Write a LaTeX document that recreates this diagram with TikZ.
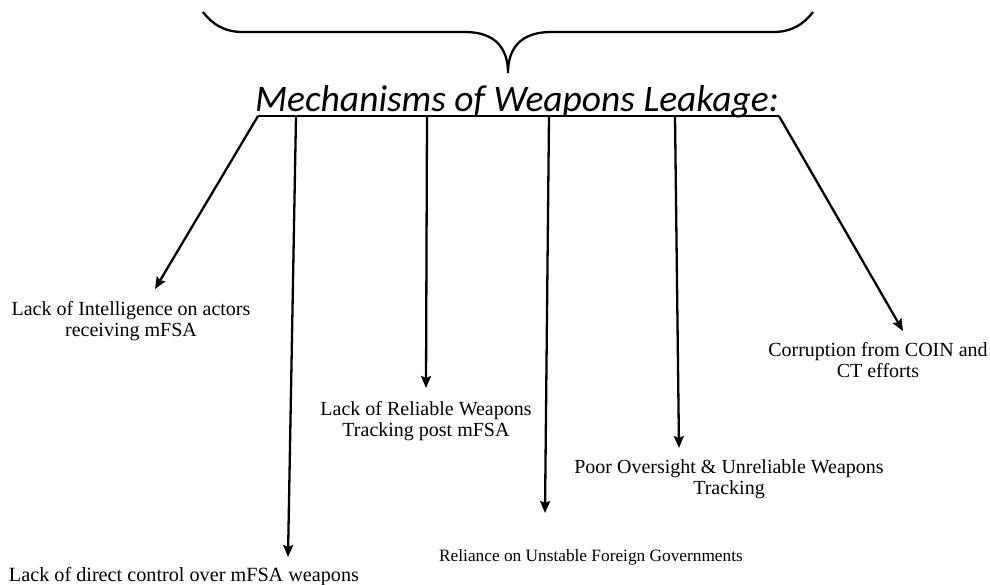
\documentclass[tikz,border=0pt]{standalone}
\usepackage{fontspec}
\setmainfont{Liberation Serif}
\newfontfamily\titlefont{Carlito}
\usetikzlibrary{arrows.meta}
\begin{document}
\begin{tikzpicture}[x=1pt,y=-1pt,
  conn/.style={line width=2.3pt,-{Stealth[length=12pt,width=10pt,inset=2pt]}},
  lbl/.style={font=\fontsize{20}{21}\selectfont,align=center,inner sep=0pt,anchor=base},
  brace/.style={line width=2.3pt}]
\useasboundingbox (0,0) rectangle (990,584);
% brace
\draw[brace] (203,12) .. controls (213,25) and (225,32) .. (243,32) -- (465,32)
  .. controls (495,32) and (508,48) .. (508,73)
  .. controls (508,48) and (521,32) .. (551,32) -- (773,32)
  .. controls (791,32) and (803,25) .. (813,12);
% title
\node[inner sep=0pt,anchor=base,font=\titlefont\itshape\fontsize{37.5}{42}\selectfont] (title) at (517,111) {Mechanisms of Weapons Leakage:};
\coordinate (ul) at (258,116);
\coordinate (ur) at (779,116);
\draw[line width=2.3pt] (ul) -- (ur);
% start points
\coordinate (s1) at (258,116);
\coordinate (s2) at (296,116);
\coordinate (s3) at (427,116);
\coordinate (s4) at (549,116);
\coordinate (s5) at (675,116);
\coordinate (s6) at (779,116);
% tips
\coordinate (e1) at (155,289);
\coordinate (e2) at (288,557);
\coordinate (e3) at (426,388);
\coordinate (e4) at (545,513);
\coordinate (e5) at (679,448);
\coordinate (e6) at (903,331);
% labels
\node[lbl] (t1) at (131,336) {Lack of Intelligence on actors\\receiving mFSA};
\node[lbl,font=\fontsize{20.2}{21}\selectfont] (t2) at (184,581) {Lack of direct control over mFSA weapons};
\node[lbl] (t3) at (426,436) {Lack of Reliable Weapons\\Tracking post mFSA};
\node[lbl,font=\fontsize{17.3}{21}\selectfont] (t4) at (591,561) {Reliance on Unstable Foreign Governments};
\node[lbl] (t5) at (729,494) {Poor Oversight \& Unreliable Weapons\\Tracking};
\node[lbl] (t6) at (878,377) {Corruption from COIN and\\CT efforts};
% connectors
\foreach \i in {1,...,6} \draw[conn] (s\i) -- (e\i);
\end{tikzpicture}
\end{document}
